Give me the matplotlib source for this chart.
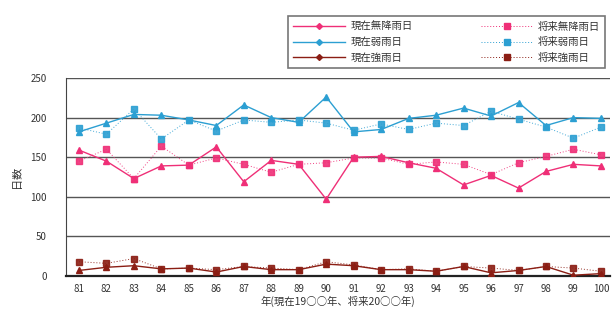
import matplotlib
matplotlib.use("Agg")
import matplotlib.pyplot as plt
from matplotlib.lines import Line2D

plt.rcParams['font.family'] = ['Noto Sans CJK JP', 'DejaVu Sans']

years = ["81", "82", "83", "84", "85", "86", "87", "88", "89", "90",
         "91", "92", "93", "94", "95", "96", "97", "98", "99", "100"]

now_norain = [159, 145, 123, 139, 140, 163, 119, 146, 141, 97,
              150, 151, 143, 136, 115, 127, 111, 132, 141, 139]
fut_norain = [145, 160, 123, 164, 140, 149, 141, 131, 141, 143,
              149, 149, 141, 144, 141, 128, 143, 151, 160, 153]

now_weak = [182, 193, 204, 203, 197, 190, 216, 200, 194, 226,
            182, 185, 199, 203, 212, 202, 219, 190, 200, 199]
fut_weak = [187, 179, 211, 173, 197, 183, 197, 194, 197, 193,
            184, 192, 185, 193, 190, 208, 198, 188, 174, 188]

now_strong = [7, 11, 13, 9, 10, 5, 12, 8, 8, 15,
              13, 8, 8, 6, 12, 4, 7, 12, 1, 3]
fut_strong = [18, 16, 22, 9, 10, 8, 12, 10, 8, 18,
              14, 8, 9, 6, 12, 10, 7, 12, 10, 6]

labels_now = ["現在無降雨日", "現在弱雨日", "現在強雨日"]
labels_fut = ["将来無降雨日", "将来弱雨日", "将来強雨日"]
colors = ["#ef2f77", "#2c9fd2", "#8b1e14"]

fig = plt.figure(figsize=(6.14, 3.28), dpi=100)
ax = fig.add_axes([66 / 614, 1 - 276 / 328, 544 / 614, 198 / 328])

x = list(range(len(years)))
now_series = [now_norain, now_weak, now_strong]
fut_series = [fut_norain, fut_weak, fut_strong]

for ys, c in zip(now_series, colors):
    ax.plot(x, ys, color=c, lw=1.0, marker="^", ms=4, mec=c, mfc=c, zorder=3)
for ys, c in zip(fut_series, colors):
    ax.plot(x, ys, color=c, lw=0.7, ls=(0, (1, 2)), marker="s", ms=4,
            mec=c, mfc=c, alpha=0.9, zorder=3)

ax.set_xlim(-0.47, 19.33)
ax.set_ylim(0, 250)
ax.set_yticks([0, 50, 100, 150, 200, 250])
ax.set_xticks(x)
ax.set_xticklabels(years)
ax.grid(axis="y", color="#555555", lw=1.0)
ax.set_axisbelow(True)
ax.tick_params(axis="x", length=0, labelsize=7, colors="#333333", pad=6)
ax.tick_params(axis="y", length=0, labelsize=7, colors="#333333", pad=14)
for side in ["top", "right"]:
    ax.spines[side].set_visible(False)
ax.spines["left"].set_color("#444444")
ax.spines["bottom"].set_color("#222222")
ax.spines["bottom"].set_linewidth(1.6)

ax.set_ylabel("日数", fontsize=8, color="#333333", labelpad=6)
ax.set_xlabel("年(現在19○○年、将来20○○年)", fontsize=7.5, color="#333333",
              labelpad=1)

handles = []
names = []
for i in range(3):
    handles.append(Line2D([], [], color=colors[i], lw=1.0, marker="D", ms=3))
    names.append(labels_now[i])
    handles.append(Line2D([], [], color=colors[i], lw=0.7, ls=(0, (1, 2)),
                          marker="s", ms=4))
    names.append(labels_fut[i])
# present series in the left column, future series in the right one
order = [0, 2, 4, 1, 3, 5]
leg = fig.legend([handles[k] for k in order], [names[k] for k in order],
                 ncol=2, loc="upper left",
                 bbox_to_anchor=(283 / 614, 1 - 11 / 328),
                 fontsize=7.5, frameon=True, fancybox=False,
                 edgecolor="#555555", handlelength=5.0, handletextpad=0.5,
                 columnspacing=6.5, labelspacing=0.55, borderpad=0.5)
leg.get_frame().set_linewidth(1.2)
for t in leg.get_texts():
    t.set_color("#333333")

fig.savefig("out.png", dpi=100)
